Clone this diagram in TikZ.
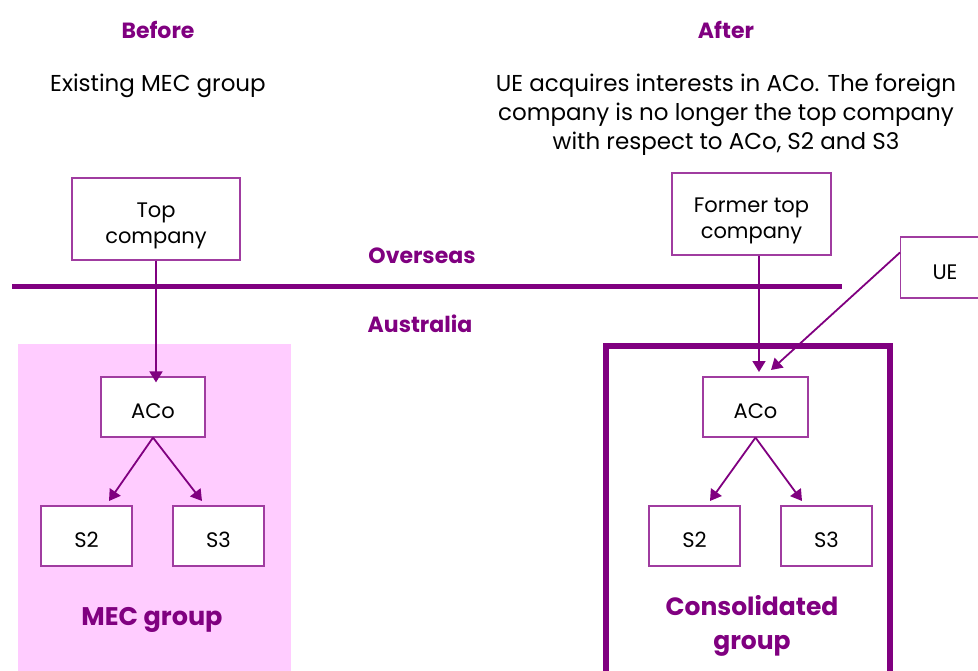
\documentclass[tikz,border=0pt]{standalone}
\usepackage{fontspec}
\setmainfont{Poppins}
\usetikzlibrary{arrows.meta}
\definecolor{deeppurple}{RGB}{128,0,128}
\definecolor{boxline}{RGB}{160,60,160}
\definecolor{pinkfill}{RGB}{255,204,255}
\tikzset{
  entity/.style={draw=boxline, line width=1.2pt, fill=white, inner sep=0pt},
  boxtext/.style={align=center, inner sep=0pt, font=\fontsize{21}{26}\selectfont},
  heading/.style={text=deeppurple, font=\fontsize{22}{26}\selectfont\bfseries},
  caption/.style={text=black, align=center, font=\fontsize{23}{29}\selectfont},
  link/.style={draw=deeppurple, line width=1.8pt, -{Triangle[length=11pt,width=13pt]}}
}
\begin{document}
\begin{tikzpicture}[x=1pt,y=-1pt]
\useasboundingbox (0,0) rectangle (978,671);
\begin{scope}
\clip (0,0) rectangle (978,671);

% Group regions
\fill[pinkfill] (18,344) rectangle (291,690);
\draw[deeppurple, line width=6pt] (606,346) rectangle (890,700);

% Border between overseas and Australia
\draw[deeppurple, line width=5pt] (12,287) -- (842,287);

% Headings and captions
\node[heading] (before) at (158,30) {Before};
\node[heading] (after) at (726,30) {After};
\node[caption] (capL) at (158,86) {Existing MEC group};
\node[caption, anchor=north] (capR) at (726,70) {UE acquires interests in ACo. The foreign\\company is no longer the top company\\with respect to ACo, S2 and S3};
\node[heading] (overseas) at (422,256) {Overseas};
\node[heading] (australia) at (420,324) {Australia};

% Before structure
\node[entity, minimum width=168pt, minimum height=82pt] (topL) at (156,219) {};
\node[entity, minimum width=104pt, minimum height=60pt] (acoL) at (153,407) {};
\node[entity, minimum width=91pt, minimum height=60pt] (s2L) at (86.5,536) {};
\node[entity, minimum width=91pt, minimum height=60pt] (s3L) at (218.5,536) {};
\node[boxtext] (topLt) at ([yshift=-7pt]topL.center) {Top\\company};
\node[boxtext] (acoLt) at ([yshift=-4pt]acoL.center) {ACo};
\node[boxtext] (s2Lt) at ([yshift=-4pt]s2L.center) {S2};
\node[boxtext] (s3Lt) at ([yshift=-4pt]s3L.center) {S3};
\node[heading, font=\fontsize{25.5}{26}\selectfont\bfseries] (mec) at (152,620) {MEC group};

\draw[link] (topL.south) -- ([yshift=-6pt]acoL.north -| topL.south);
\draw[link] (acoL.south) -- (109,501);
\draw[link] (acoL.south) -- (202,501);

% After structure
\node[entity, minimum width=159pt, minimum height=82pt] (topR) at (751.5,214) {};
\node[entity, minimum width=100pt, minimum height=61pt, anchor=west] (ue) at (900,267.5) {};
\node[entity, minimum width=105pt, minimum height=60pt] (acoR) at (755.5,407) {};
\node[entity, minimum width=91pt, minimum height=60pt] (s2R) at (694.5,536) {};
\node[entity, minimum width=91pt, minimum height=60pt] (s3R) at (826.5,536) {};
\node[boxtext] (topRt) at ([yshift=-7pt]topR.center) {Former top\\company};
\node[boxtext] (uet) at (945,272) {UE};
\node[boxtext] (acoRt) at ([yshift=-4pt]acoR.center) {ACo};
\node[boxtext] (s2Rt) at ([yshift=-4pt]s2R.center) {S2};
\node[boxtext] (s3Rt) at ([yshift=-4pt]s3R.center) {S3};
\node[heading, align=center, font=\fontsize{25}{34}\selectfont\bfseries] (cons) at (752,626) {Consolidated\\group};

\draw[link] (topR.south -| 759,0) -- (759,372);
\draw[link] ([yshift=15pt]ue.west) -- (771,370);
\draw[link] (acoR.south) -- (710,501);
\draw[link] (acoR.south) -- (802,501);
\end{scope}
\end{tikzpicture}
\end{document}
